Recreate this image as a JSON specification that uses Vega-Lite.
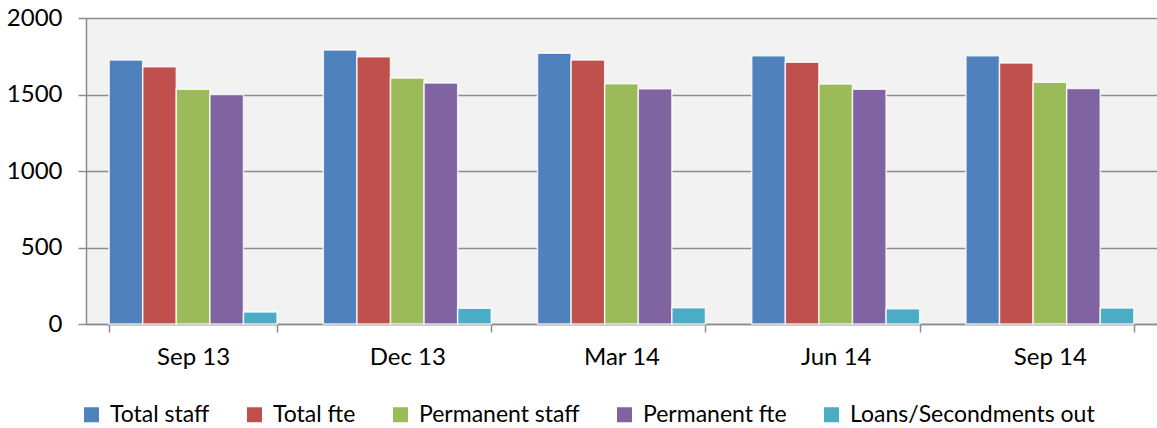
{
  "$schema": "https://vega.github.io/schema/vega-lite/v6.json",
  "autosize": {"type": "none"},
  "padding": {"left": 86, "top": 18, "right": 0, "bottom": 104},
  "width": 1071,
  "height": 306,
  "background": "white",
  "config": {
    "view": {"stroke": null, "fill": "#f2f2f2"},
    "font": "Lato",
    "axis": {"labelFont": "Lato", "labelFontSize": 24, "labelColor": "#000000", "domainColor": "#8c8c8c", "tickColor": "#8c8c8c", "gridColor": "#8c8c8c", "domainWidth": 1.5, "tickWidth": 1.5, "gridWidth": 1.5, "title": null},
    "legend": {"labelFont": "Lato", "labelFontSize": 23, "labelColor": "#000000", "labelLimit": 500}
  },
  "data": {
    "values": [
      {"quarter": "Sep 13", "series": "Total staff", "value": 1725},
      {"quarter": "Sep 13", "series": "Total fte", "value": 1682},
      {"quarter": "Sep 13", "series": "Permanent staff", "value": 1534},
      {"quarter": "Sep 13", "series": "Permanent fte", "value": 1500},
      {"quarter": "Sep 13", "series": "Loans/Secondments out", "value": 78},
      {"quarter": "Dec 13", "series": "Total staff", "value": 1791},
      {"quarter": "Dec 13", "series": "Total fte", "value": 1747},
      {"quarter": "Dec 13", "series": "Permanent staff", "value": 1608},
      {"quarter": "Dec 13", "series": "Permanent fte", "value": 1575},
      {"quarter": "Dec 13", "series": "Loans/Secondments out", "value": 103},
      {"quarter": "Mar 14", "series": "Total staff", "value": 1769},
      {"quarter": "Mar 14", "series": "Total fte", "value": 1725},
      {"quarter": "Mar 14", "series": "Permanent staff", "value": 1571},
      {"quarter": "Mar 14", "series": "Permanent fte", "value": 1538},
      {"quarter": "Mar 14", "series": "Loans/Secondments out", "value": 107},
      {"quarter": "Jun 14", "series": "Total staff", "value": 1754},
      {"quarter": "Jun 14", "series": "Total fte", "value": 1710},
      {"quarter": "Jun 14", "series": "Permanent staff", "value": 1569},
      {"quarter": "Jun 14", "series": "Permanent fte", "value": 1534},
      {"quarter": "Jun 14", "series": "Loans/Secondments out", "value": 99},
      {"quarter": "Sep 14", "series": "Total staff", "value": 1754},
      {"quarter": "Sep 14", "series": "Total fte", "value": 1706},
      {"quarter": "Sep 14", "series": "Permanent staff", "value": 1580},
      {"quarter": "Sep 14", "series": "Permanent fte", "value": 1540},
      {"quarter": "Sep 14", "series": "Loans/Secondments out", "value": 104}
    ]
  },
  "mark": {"type": "bar", "stroke": "#ffffff", "strokeWidth": 1.5, "strokeOpacity": 0.8},
  "encoding": {
    "x": {
      "field": "quarter", "type": "nominal",
      "sort": ["Sep 13", "Dec 13", "Mar 14", "Jun 14", "Sep 14"],
      "scale": {"paddingInner": 0.216, "paddingOuter": 0.108},
      "axis": {"labelAngle": 0, "tickBand": "extent", "tickSize": 8, "labelPadding": 13, "domain": true, "grid": false}
    },
    "xOffset": {
      "field": "series", "type": "nominal",
      "sort": ["Total staff", "Total fte", "Permanent staff", "Permanent fte", "Loans/Secondments out"],
      "scale": {"paddingInner": 0, "paddingOuter": 0}
    },
    "y": {
      "field": "value", "type": "quantitative",
      "scale": {"domain": [0, 2000], "nice": false},
      "axis": {"values": [0, 500, 1000, 1500, 2000], "format": "d", "tickSize": 8, "labelPadding": 16, "grid": true, "domain": true}
    },
    "color": {
      "field": "series", "type": "nominal",
      "sort": ["Total staff", "Total fte", "Permanent staff", "Permanent fte", "Loans/Secondments out"],
      "scale": {"range": ["#4f81bd", "#c0504d", "#9bbb59", "#8064a2", "#4bacc6"]},
      "legend": {"title": null, "orient": "none", "direction": "horizontal", "legendX": -6, "legendY": 385, "symbolType": "square", "symbolSize": 225, "symbolStrokeWidth": 0, "symbolOpacity": 1, "labelOffset": 7, "columnPadding": 33}
    }
  }
}
